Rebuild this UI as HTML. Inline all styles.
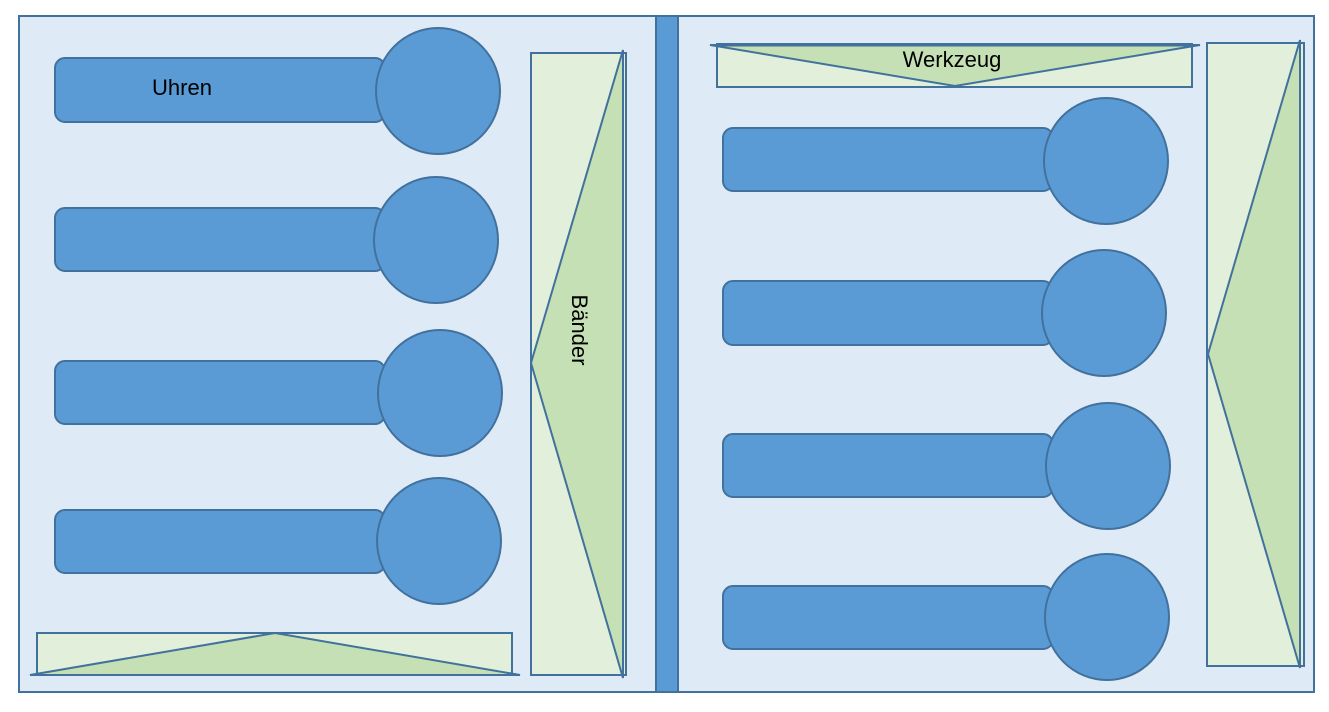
<!DOCTYPE html>
<html><head><style>body{margin:0;background:#fff}svg{display:block}</style></head>
<body>
<svg width="1329" height="712" xmlns="http://www.w3.org/2000/svg" font-family="Liberation Sans, sans-serif">
<g stroke="#41719c" stroke-width="2">
<rect x="19" y="16" width="1295" height="676" fill="#deeaf6"/>
<rect x="656" y="16" width="22" height="676" fill="#5b9bd5"/>
<g fill="#5b9bd5">
<rect x="55" y="58" width="330" height="64" rx="10"/>
<rect x="55" y="208" width="330" height="63" rx="10"/>
<rect x="55" y="361" width="330" height="63" rx="10"/>
<rect x="55" y="510" width="330" height="63" rx="10"/>
<ellipse cx="438" cy="91" rx="62" ry="63"/>
<ellipse cx="436" cy="240" rx="62" ry="63"/>
<ellipse cx="440" cy="393" rx="62" ry="63"/>
<ellipse cx="439" cy="541" rx="62" ry="63"/>
<rect x="723" y="128" width="330" height="63" rx="10"/>
<rect x="723" y="281" width="330" height="64" rx="10"/>
<rect x="723" y="434" width="330" height="63" rx="10"/>
<rect x="723" y="586" width="330" height="63" rx="10"/>
<ellipse cx="1106" cy="161" rx="62" ry="63"/>
<ellipse cx="1104" cy="313" rx="62" ry="63"/>
<ellipse cx="1108" cy="466" rx="62" ry="63"/>
<ellipse cx="1107" cy="617" rx="62" ry="63"/>
</g>
<rect x="531" y="53" width="95" height="622" fill="#e2efda"/>
<polygon points="531,363 623,50 623,678" fill="#c5e0b4"/>
<rect x="37" y="633" width="475" height="41" fill="#e2efda"/>
<polygon points="30,675 275,633 520,675" fill="#c5e0b4"/>
<rect x="717" y="44" width="475" height="43" fill="#e2efda"/>
<polygon points="710,45 955,86 1200,45" fill="#c5e0b4"/>
<line x1="717" y1="45" x2="1192" y2="45" stroke-width="3"/>
<rect x="1207" y="43" width="97" height="623" fill="#e2efda"/>
<polygon points="1208,354 1300,40 1300,668" fill="#c5e0b4"/>
</g>
<text x="182" y="95" font-size="22" text-anchor="middle">Uhren</text>
<text x="952" y="67" font-size="22" text-anchor="middle">Werkzeug</text>
<text transform="translate(572,330) rotate(90)" font-size="22" text-anchor="middle">Bänder</text>
</svg>
</body></html>
